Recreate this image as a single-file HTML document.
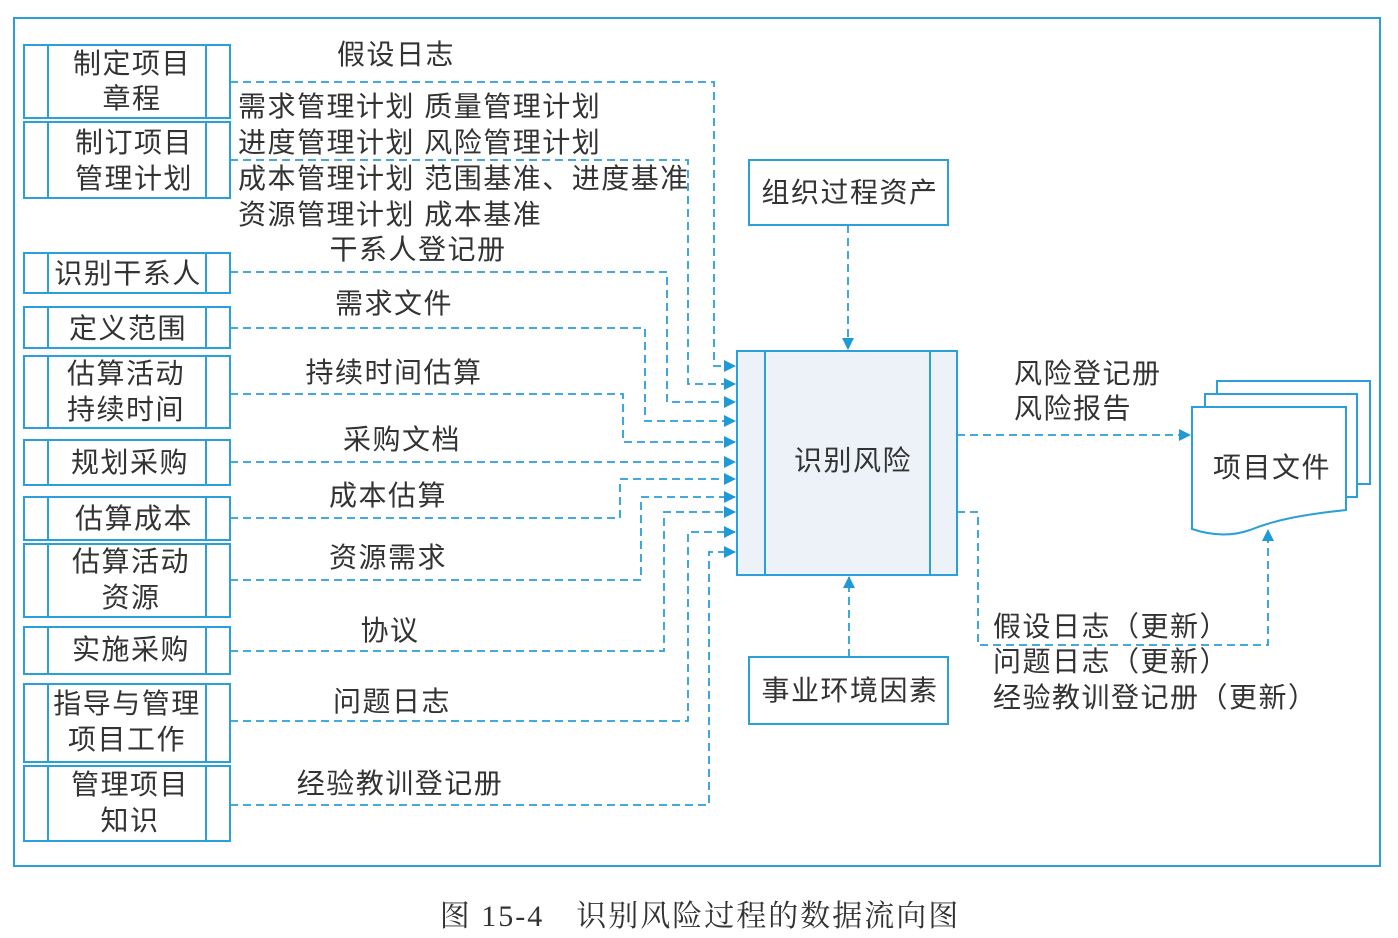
<!DOCTYPE html>
<html><head><meta charset="utf-8"><style>
html,body{margin:0;padding:0;background:#fff;}
svg{display:block;}
text{font-family:"Liberation Sans","Noto Sans CJK SC",sans-serif;fill:#333;font-size:28px;letter-spacing:1.5px;}
.cap{font-family:"Liberation Serif","Noto Serif CJK SC",serif;font-size:30px;fill:#333;letter-spacing:2px;}
</style></head><body>
<svg width="1398" height="938" viewBox="0 0 1398 938" xmlns="http://www.w3.org/2000/svg">
<defs>
<marker id="a" markerWidth="12" markerHeight="12" refX="11" refY="6" orient="auto" markerUnits="userSpaceOnUse">
<path d="M0,0 L12,6 L0,12 Z" fill="#1f9ad6"/></marker>
</defs>
<rect x="14" y="18" width="1366" height="848" fill="none" stroke="#2a9fd8" stroke-width="2"/>
<g fill="none" stroke="#2a9fd8" stroke-width="2">
<rect x="24" y="45" width="206" height="73"/><line x1="48" y1="45" x2="48" y2="118"/><line x1="206" y1="45" x2="206" y2="118"/>
<rect x="24" y="122" width="206" height="76"/><line x1="48" y1="122" x2="48" y2="198"/><line x1="206" y1="122" x2="206" y2="198"/>
<rect x="24" y="253" width="206" height="40"/><line x1="48" y1="253" x2="48" y2="293"/><line x1="206" y1="253" x2="206" y2="293"/>
<rect x="24" y="307" width="206" height="41"/><line x1="48" y1="307" x2="48" y2="348"/><line x1="206" y1="307" x2="206" y2="348"/>
<rect x="24" y="356" width="206" height="72"/><line x1="48" y1="356" x2="48" y2="428"/><line x1="206" y1="356" x2="206" y2="428"/>
<rect x="24" y="440" width="206" height="45"/><line x1="48" y1="440" x2="48" y2="485"/><line x1="206" y1="440" x2="206" y2="485"/>
<rect x="24" y="497" width="206" height="43"/><line x1="48" y1="497" x2="48" y2="540"/><line x1="206" y1="497" x2="206" y2="540"/>
<rect x="24" y="544" width="206" height="73"/><line x1="48" y1="544" x2="48" y2="617"/><line x1="206" y1="544" x2="206" y2="617"/>
<rect x="24" y="627" width="206" height="47"/><line x1="48" y1="627" x2="48" y2="674"/><line x1="206" y1="627" x2="206" y2="674"/>
<rect x="24" y="684" width="206" height="78"/><line x1="48" y1="684" x2="48" y2="762"/><line x1="206" y1="684" x2="206" y2="762"/>
<rect x="24" y="766" width="206" height="75"/><line x1="48" y1="766" x2="48" y2="841"/><line x1="206" y1="766" x2="206" y2="841"/>
<rect x="749" y="160" width="199" height="65"/>
<rect x="749" y="657" width="199" height="67"/>
</g>
<rect x="737" y="351" width="220" height="224" fill="#edf2f8" stroke="#2a9fd8" stroke-width="2"/>
<line x1="765" y1="351" x2="765" y2="575" stroke="#2a9fd8" stroke-width="2"/>
<line x1="930" y1="351" x2="930" y2="575" stroke="#2a9fd8" stroke-width="2"/>
<g fill="#fff" stroke="#2a9fd8" stroke-width="2">
<path d="M1217,381 H1370 V484 H1217 Z"/>
<path d="M1205,394 H1357 V497 H1205 Z"/>
<path d="M1192,407 H1346 V510 C1300,515 1275,520 1250,530 C1230,537 1210,535 1192,529 Z"/>
</g>
<g fill="none" stroke="#2a9fd8" stroke-width="1.8" stroke-dasharray="8,5">
<polyline points="230,82 714,82 714,366 735,366" marker-end="url(#a)"/>
<polyline points="230,160 688,160 688,384 735,384" marker-end="url(#a)"/>
<polyline points="230,272 667,272 667,402 735,402" marker-end="url(#a)"/>
<polyline points="230,328 645,328 645,421 735,421" marker-end="url(#a)"/>
<polyline points="230,394 623,394 623,442 735,442" marker-end="url(#a)"/>
<polyline points="230,462 735,462" marker-end="url(#a)"/>
<polyline points="230,518 620,518 620,479 735,479" marker-end="url(#a)"/>
<polyline points="230,580 641,580 641,497 735,497" marker-end="url(#a)"/>
<polyline points="230,651 664,651 664,512 735,512" marker-end="url(#a)"/>
<polyline points="230,721 688,721 688,532 735,532" marker-end="url(#a)"/>
<polyline points="230,805 709,805 709,552 735,552" marker-end="url(#a)"/>
<polyline points="848,225 848,349" marker-end="url(#a)"/>
<polyline points="849,657 849,577" marker-end="url(#a)"/>
<polyline points="957,435 1190,435" marker-end="url(#a)"/>
<polyline points="957,512 978,512 978,645 1268,645 1268,530" marker-end="url(#a)"/>
</g>
<g text-anchor="middle">
<text x="132" y="73">制定项目</text><text x="132" y="108">章程</text>
<text x="134" y="152">制订项目</text><text x="134" y="188">管理计划</text>
<text x="128" y="283">识别干系人</text>
<text x="128" y="338">定义范围</text>
<text x="126" y="383">估算活动</text><text x="126" y="419">持续时间</text>
<text x="130" y="472">规划采购</text>
<text x="134" y="528">估算成本</text>
<text x="131" y="571">估算活动</text><text x="131" y="607">资源</text>
<text x="131" y="659">实施采购</text>
<text x="127" y="713">指导与管理</text><text x="127" y="749">项目工作</text>
<text x="130" y="794">管理项目</text><text x="130" y="830">知识</text>
<text x="396" y="64">假设日志</text>
<text x="418" y="259">干系人登记册</text>
<text x="394" y="313">需求文件</text>
<text x="394" y="382">持续时间估算</text>
<text x="402" y="449">采购文档</text>
<text x="388" y="505">成本估算</text>
<text x="388" y="567">资源需求</text>
<text x="390" y="640">协议</text>
<text x="392" y="711">问题日志</text>
<text x="400" y="793">经验教训登记册</text>
<text x="850" y="202">组织过程资产</text>
<text x="850" y="700">事业环境因素</text>
<text x="853" y="470" fill="#3a4450">识别风险</text>
<text x="1272" y="477">项目文件</text>
</g>
<text x="238" y="116">需求管理计划 质量管理计划</text>
<text x="238" y="152">进度管理计划 风险管理计划</text>
<text x="238" y="188">成本管理计划 范围基准、进度基准</text>
<text x="238" y="224">资源管理计划 成本基准</text>
<text x="1014" y="383">风险登记册</text>
<text x="1014" y="418">风险报告</text>
<text x="993" y="636">假设日志（更新）</text>
<text x="993" y="671">问题日志（更新）</text>
<text x="993" y="707">经验教训登记册（更新）</text>
<text class="cap" x="700" y="926" text-anchor="middle">图 15-4　识别风险过程的数据流向图</text>
</svg>
</body></html>
